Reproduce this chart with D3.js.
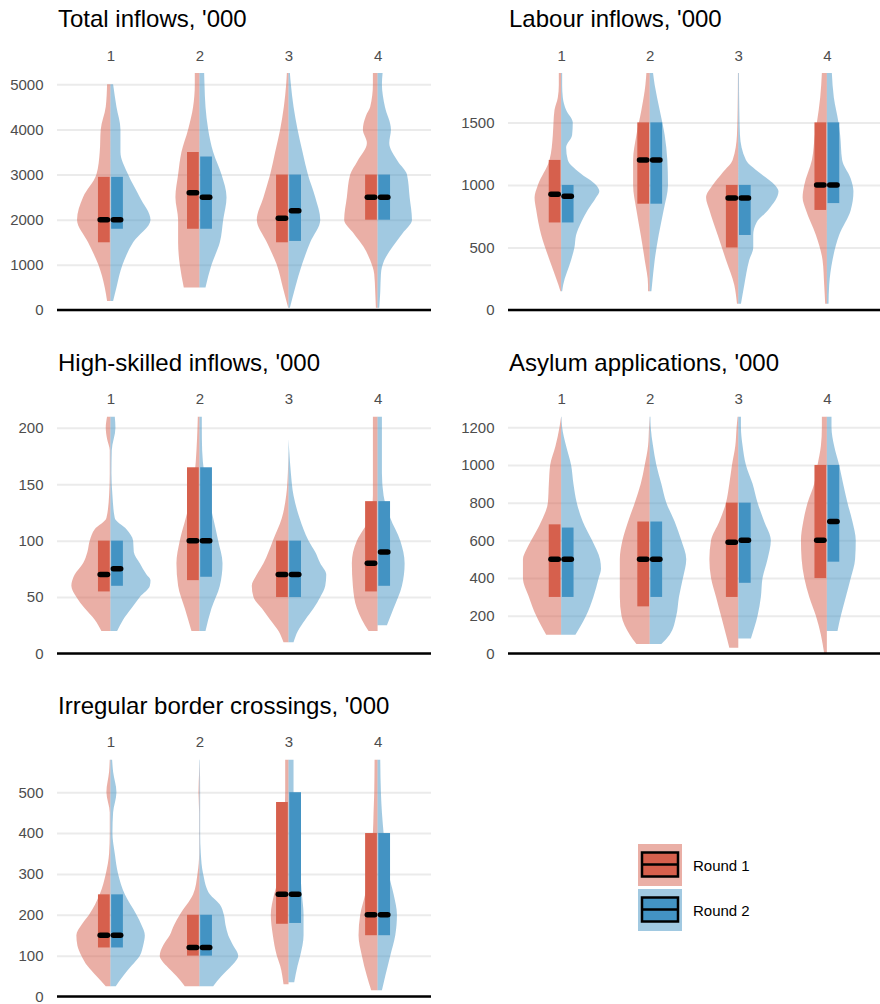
<!DOCTYPE html>
<meta charset="utf-8">
<style>

body {
  margin: 0;
  background: #fff;
}

svg {
  font-family: "Liberation Sans", Arial, sans-serif;
}

.grid line {
  stroke: #ebebeb;
  stroke-width: 2;
}

.grid text,
.cats text {
  fill: #4d4d4d;
  font-size: 15px;
}

.title {
  font-size: 24px;
  fill: #000;
}

</style>
<body>
<script src="https://cdn.jsdelivr.net/npm/d3@7"></script>
<script>

var titles = ["Total inflows, '000", "Labour inflows, '000", "High-skilled inflows, '000",
              "Asylum applications, '000", "Irregular border crossings, '000"];
var categories = ["1", "2", "3", "4"];
var rounds = ["Round 1", "Round 2"];
var colors = ["#d6604d", "#4393c3"];

// visible top of each panel's y axis
var yMax = [5250, 1895, 210, 1257, 580];
var yTicks = [
  [0, 1000, 2000, 3000, 4000, 5000],
  [0, 500, 1000, 1500],
  [0, 50, 100, 150, 200],
  [0, 200, 400, 600, 800, 1000, 1200],
  [0, 100, 200, 300, 400, 500]
];

// violin profiles: per category, [round 1, round 2], each a list of [value, relative density]
var totalViolins = [
  [[[200,10],[500,17],[1000,36],[1500,67],[2000,100],[2500,82],[3000,42],[3500,32],[4000,29],[4500,14],[5000,10]],
   [[200,8],[500,18],[1000,36],[1500,68],[2000,120],[2500,88],[3000,53],[3500,30],[4000,30],[4500,18],[5000,8]]],
  [[[500,47],[1000,59],[1500,64],[2000,64],[2500,72],[3000,64],[3500,54],[4000,34],[4500,19],[5000,14],[5250,14]],
   [[500,18],[1000,36],[1500,61],[2000,71],[2500,81],[3000,66],[3500,41],[4000,26],[4500,18],[5000,15],[5250,14]]],
  [[[50,1],[500,17],[1000,35],[1500,65],[2000,95],[2500,75],[3000,55],[3500,40],[4000,25],[4500,14],[5000,7],[5250,5]],
   [[50,4],[500,20],[1000,40],[1500,65],[2000,95],[2500,80],[3000,58],[3500,42],[4000,27],[4500,15],[5000,7],[5250,4]]],
  [[[50,5],[400,7],[800,10],[1100,22],[1400,42],[1700,72],[2000,100],[2500,92],[3000,82],[3300,60],[3700,32],[4000,44],[4300,35],[4500,22],[5000,14],[5250,14]],
   [[50,5],[400,8],[800,10],[1100,20],[1400,45],[1700,75],[2000,103],[2500,96],[3000,88],[3300,60],[3700,35],[4000,40],[4500,22],[5000,13],[5250,15]]]
];

var labourViolins = [
  [[[150,2],[200,8],[400,35],[600,60],[800,75],[900,80],[1000,70],[1200,35],[1400,25],[1500,23],[1600,20],[1700,10],[1800,7],[1895,7]],
   [[150,3],[200,6],[400,30],[500,40],[600,45],[700,60],[800,80],[900,105],[950,115],[1000,105],[1100,55],[1200,20],[1300,15],[1400,33],[1500,35],[1600,15],[1700,5],[1800,3],[1895,3]]],
  [[[150,5],[200,5],[400,15],[600,27],[800,40],[1000,50],[1200,50],[1400,40],[1600,25],[1800,13],[1895,10]],
   [[150,5],[200,7],[400,15],[600,27],[800,42],[1000,55],[1200,53],[1400,45],[1600,30],[1800,15],[1895,10]]],
  [[[50,4],[200,12],[400,37],[600,62],[800,87],[900,97],[1000,77],[1100,47],[1200,17],[1400,4],[1600,2],[1895,1]],
   [[50,8],[200,18],[400,33],[500,45],[600,45],[700,55],[800,90],[950,121],[1000,110],[1100,63],[1200,23],[1400,5],[1600,3],[1895,2]]],
  [[[50,5],[200,8],[400,13],[600,33],[800,63],[900,73],[1000,68],[1200,45],[1400,36],[1500,30],[1700,20],[1895,15]],
   [[50,5],[200,7],[400,17],[600,37],[800,72],[950,80],[1050,72],[1200,46],[1400,40],[1500,35],[1700,21],[1895,15]]]
];

var skilledViolins = [
  [[[20,27],[30,47],[40,77],[50,102],[60,117],[70,107],[80,82],[90,69],[100,62],[110,47],[120,12],[140,4],[160,2],[180,2],[190,10],[200,14],[210,10]],
   [[20,20],[30,38],[40,63],[50,88],[60,118],[65,120],[70,108],[80,88],[90,70],[100,68],[110,48],[120,13],[140,6],[160,3],[180,4],[200,15],[210,13]]],
  [[[20,24],[40,44],[60,64],[80,69],[100,59],[120,41],[140,24],[160,14],[180,9],[200,6],[210,5]],
   [[20,18],[40,36],[60,61],[80,69],[100,56],[120,41],[140,26],[160,14],[180,8],[200,7],[210,7]]],
  [[[10,15],[20,30],[30,55],[40,80],[50,105],[60,110],[70,95],[80,75],[90,60],[100,47],[120,20],[140,7],[160,2],[180,0]],
   [[10,15],[20,28],[30,50],[40,75],[50,95],[60,110],[70,113],[80,95],[90,80],[100,60],[120,33],[140,15],[160,7],[180,2],[190,0]]],
  [[[20,27],[30,47],[40,62],[60,74],[80,77],[100,62],[110,42],[120,22],[140,14],[160,14],[200,14],[210,14]],
   [[25,28],[40,48],[60,73],[80,81],[100,68],[120,38],[140,18],[160,13],[200,13],[210,13]]]
];

var asylumViolins = [
  [[[100,45],[200,75],[300,97],[400,115],[500,115],[550,105],[600,90],[700,60],[800,40],[900,37],[1000,33],[1100,17],[1200,5],[1257,0]],
   [[100,43],[200,75],[300,97],[400,113],[450,120],[500,117],[600,93],[700,65],[800,47],[900,37],[1000,30],[1100,15],[1200,3],[1257,1]]],
  [[[50,40],[100,60],[200,85],[300,90],[400,90],[500,90],[600,82],[700,65],[800,45],[900,27],[1000,15],[1100,5],[1200,2],[1257,0]],
   [[50,35],[100,60],[200,80],[300,88],[400,100],[500,110],[600,95],[700,75],[800,50],[900,35],[1000,20],[1100,10],[1200,3],[1257,2]]],
  [[[30,27],[100,37],[200,52],[300,67],[400,82],[500,87],[600,82],[700,57],[800,37],[900,27],[1000,19],[1100,9],[1200,5],[1257,2]],
   [[80,38],[200,58],[300,68],[400,73],[500,88],[600,98],[700,78],[800,58],[900,43],[1000,23],[1100,13],[1200,8],[1257,8]]],
  [[[0,8],[100,18],[200,33],[300,53],[400,68],[500,76],[600,78],[700,71],[800,58],[900,38],[1000,28],[1100,18],[1200,15],[1257,15]],
   [[120,32],[200,42],[300,57],[400,72],[500,85],[600,87],[700,77],[800,62],[900,49],[1000,37],[1100,22],[1200,14],[1257,14]]]
];

var irregularViolins = [
  [[[25,14],[50,42],[75,69],[100,87],[125,99],[150,102],[175,87],[200,64],[250,32],[300,14],[350,4],[400,2],[450,2],[500,12],[550,4],[580,2]],
   [[25,16],[50,38],[75,63],[100,88],[125,98],[150,103],[175,93],[200,78],[250,43],[300,23],[350,13],[400,6],[450,8],[500,18],[550,8],[580,5]]],
  [[[25,44],[50,69],[75,99],[100,119],[125,109],[150,89],[175,76],[200,59],[250,19],[300,6],[350,1],[450,1],[500,3],[550,1],[580,0]],
   [[25,41],[50,66],[75,96],[100,116],[125,101],[150,86],[175,78],[200,73],[225,61],[250,31],[300,11],[350,4],[400,2],[500,2],[580,1]]],
  [[[30,15],[75,25],[100,35],[150,47],[200,53],[250,43],[300,25],[350,17],[400,15],[450,12],[500,10],[580,10]],
   [[35,17],[75,27],[100,35],[150,45],[200,45],[250,40],[300,35],[350,27],[400,20],[450,17],[500,15],[580,15]]],
  [[[15,19],[50,32],[100,47],[150,57],[200,52],[250,37],[300,27],[350,20],[400,14],[450,12],[500,10],[580,9]],
   [[15,13],[50,23],[100,38],[150,53],[200,58],[250,48],[300,33],[350,23],[400,18],[450,13],[500,10],[580,8]]]
];

// boxes: per category, [round 1, round 2] as [q1, median, q3]
var totalBoxes = [[[1500,2000,2950],[1800,2000,2950]], [[1800,2600,3500],[1800,2500,3400]],
                  [[1500,2030,3000],[1530,2200,3000]], [[2000,2500,3000],[2000,2500,3000]]];
var labourBoxes = [[[700,925,1200],[700,910,1000]], [[850,1200,1500],[850,1200,1500]],
                   [[500,895,1000],[600,895,1000]], [[800,1000,1500],[855,1000,1500]]];
var skilledBoxes = [[[55,70,100],[60,75,100]], [[65,100,165],[68,100,165]],
                    [[50,70,100],[50,70,100]], [[55,80,135],[60,90,135]]];
var asylumBoxes = [[[300,500,685],[300,500,668]], [[250,500,700],[300,500,700]],
                   [[300,590,800],[375,600,800]], [[400,600,1000],[487,700,1000]]];
var irregularBoxes = [[[120,150,250],[120,150,250]], [[100,120,200],[100,120,200]],
                      [[178,250,476],[180,250,500]], [[150,200,400],[150,200,400]]];

var violins = [totalViolins, labourViolins, skilledViolins, asylumViolins, irregularViolins];
var boxes = [totalBoxes, labourBoxes, skilledBoxes, asylumBoxes, irregularBoxes];

var colLeft = [57, 508],
    colRight = [431, 880],
    rowTop = [73, 416.5, 759.5],
    plotH = 237;

var svg = d3.select("body").append("svg")
    .attr("width", 880)
    .attr("height", 1004);

titles.forEach(function(title, i) {
  var col = i % 2, row = Math.floor(i / 2);
  var w = colRight[col] - colLeft[col];

  var g = svg.append("g")
      .attr("transform", "translate(" + colLeft[col] + "," + rowTop[row] + ")");

  var x = d3.scalePoint().domain(categories).range([0, w]).padding(0.6);
  var y = d3.scaleLinear().domain([0, yMax[i]]).range([plotH, 0]);
  var half = d3.scaleLinear().domain([0, 120]).range([0, x.step() * 0.45]);

  g.append("text")
      .attr("class", "title")
      .attr("x", 1)
      .attr("y", -46)
      .text(title);

  g.append("g")
      .attr("class", "grid")
      .call(d3.axisLeft(y).tickValues(yTicks[i]).tickFormat(d3.format("d"))
               .tickSize(-w).tickPadding(13.5))
      .call(function(a) { a.select(".domain").remove(); });

  g.append("g")
      .attr("class", "cats")
      .call(d3.axisTop(x).tickSize(0).tickPadding(12.5))
      .call(function(a) { a.select(".domain").remove(); });

  g.append("clipPath")
      .attr("id", "clip" + i)
    .append("rect")
      .attr("width", w)
      .attr("height", plotH);

  var plot = g.append("g").attr("clip-path", "url(#clip" + i + ")");

  var bw = x.step() * 0.132, gap = x.step() * 0.008;

  categories.forEach(function(c, j) {
    var cx = x(c);
    violins[i][j].forEach(function(pts, r) {
      var side = r === 0 ? -1 : 1;
      var area = d3.area()
          .curve(d3.curveMonotoneY)
          .y(function(d) { return y(d[0]); })
          .x0(cx)
          .x1(function(d) { return cx + side * half(d[1]); });
      plot.append("path")
          .datum(pts)
          .attr("d", area)
          .attr("fill", colors[r])
          .attr("fill-opacity", 0.5);
    });

    boxes[i][j].forEach(function(b, r) {
      var bx = r === 0 ? cx - gap - bw : cx + gap;
      plot.append("rect")
          .attr("x", bx)
          .attr("y", y(b[2]))
          .attr("width", bw)
          .attr("height", y(b[0]) - y(b[2]))
          .attr("fill", colors[r]);
      plot.append("line")
          .attr("x1", bx + 2.2)
          .attr("x2", bx + bw - 2.2)
          .attr("y1", y(b[1]))
          .attr("y2", y(b[1]))
          .attr("stroke", "#000")
          .attr("stroke-width", 5.5)
          .attr("stroke-linecap", "round");
    });
  });

  g.append("line")
      .attr("x1", 0)
      .attr("x2", w)
      .attr("y1", plotH)
      .attr("y2", plotH)
      .attr("stroke", "#000")
      .attr("stroke-width", 2.5);
});

// legend
var legend = svg.selectAll(".legend")
    .data(rounds)
  .enter().append("g")
    .attr("class", "legend")
    .attr("transform", function(d, i) { return "translate(638," + (844 + i * 45) + ")"; });

legend.append("rect")
    .attr("width", 44)
    .attr("height", 42)
    .attr("fill", function(d, i) { return colors[i]; })
    .attr("fill-opacity", 0.5);

legend.append("rect")
    .attr("x", 4)
    .attr("y", 8.5)
    .attr("width", 36)
    .attr("height", 24)
    .attr("fill", function(d, i) { return colors[i]; })
    .attr("stroke", "#000")
    .attr("stroke-width", 2.5);

legend.append("line")
    .attr("x1", 4)
    .attr("x2", 40)
    .attr("y1", 20.5)
    .attr("y2", 20.5)
    .attr("stroke", "#000")
    .attr("stroke-width", 2.5);

legend.append("text")
    .attr("x", 55)
    .attr("y", 21.5)
    .attr("dy", "0.35em")
    .style("font-size", "15px")
    .text(function(d) { return d; });

</script>
